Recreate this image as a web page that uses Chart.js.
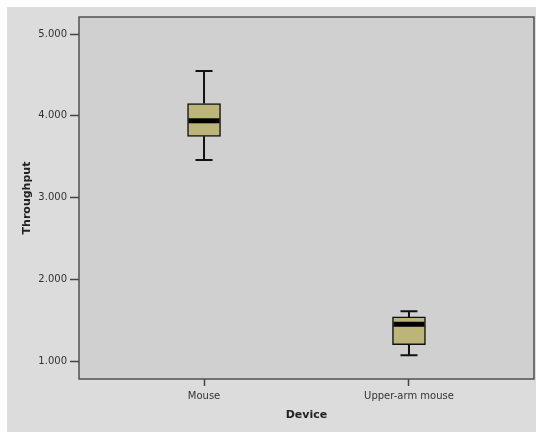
<!DOCTYPE html>
<html>
<head>
<meta charset="utf-8">
<script src="https://cdn.jsdelivr.net/npm/chart.js@4/dist/chart.umd.min.js"></script>
<style>
  html, body { margin: 0; padding: 0; background: #ffffff; }
  canvas { display: block; }
</style>
</head>
<body>
<canvas id="c" width="536" height="432"></canvas>
<script>
// ---- Data ----
const categories = ["Mouse", "Upper-arm mouse"];
const categoryPositions = [1, 2];
const whiskerMin = [3.46, 1.07];
const q1 = [3.75, 1.20];
const median = [3.94, 1.45];
const q3 = [4.15, 1.54];
const whiskerMax = [4.55, 1.61];
const yTicks = [1, 2, 3, 4, 5];
const yTickLabels = ["1.000", "2.000", "3.000", "4.000", "5.000"];

const boxData = categoryPositions.map((x, i) => ({ x: x, y: [q1[i], q3[i]] }));

const BOX_WIDTH = 33;
const CAP_WIDTH = 17;

const boxPlotPlugin = {
  id: 'boxplotDecor',
  beforeDraw(chart) {
    const ctx = chart.ctx;
    const ca = chart.chartArea;
    ctx.save();
    ctx.fillStyle = '#ffffff';
    ctx.fillRect(0, 0, chart.width, chart.height);
    ctx.fillStyle = '#dcdcdc';
    ctx.fillRect(7, 7, chart.width - 7, chart.height - 7);
    ctx.fillStyle = '#d0d0d0';
    ctx.fillRect(ca.left, ca.top, ca.right - ca.left, ca.bottom - ca.top);
    ctx.restore();
  },
  beforeDatasetsDraw(chart) {
    const ctx = chart.ctx;
    const xs = chart.scales.x, ys = chart.scales.y;
    ctx.save();
    ctx.strokeStyle = '#111111';
    ctx.lineWidth = 2;
    categoryPositions.forEach((pos, i) => {
      const px = xs.getPixelForValue(pos);
      const yMax = ys.getPixelForValue(whiskerMax[i]);
      const yQ3 = ys.getPixelForValue(q3[i]);
      const yQ1 = ys.getPixelForValue(q1[i]);
      const yMin = ys.getPixelForValue(whiskerMin[i]);
      ctx.beginPath();
      ctx.moveTo(px, yMax); ctx.lineTo(px, yQ3);
      ctx.moveTo(px, yQ1); ctx.lineTo(px, yMin);
      ctx.moveTo(px - CAP_WIDTH / 2, yMax); ctx.lineTo(px + CAP_WIDTH / 2, yMax);
      ctx.moveTo(px - CAP_WIDTH / 2, yMin); ctx.lineTo(px + CAP_WIDTH / 2, yMin);
      ctx.stroke();
    });
    ctx.restore();
  },
  afterDatasetsDraw(chart) {
    const ctx = chart.ctx;
    const xs = chart.scales.x, ys = chart.scales.y;
    const ca = chart.chartArea;
    ctx.save();
    ctx.strokeStyle = '#000000';
    ctx.lineWidth = 5;
    categoryPositions.forEach((pos, i) => {
      const px = xs.getPixelForValue(pos);
      const yMed = ys.getPixelForValue(median[i]);
      ctx.beginPath();
      ctx.moveTo(px - BOX_WIDTH / 2 + 1, yMed);
      ctx.lineTo(px + BOX_WIDTH / 2 - 1, yMed);
      ctx.stroke();
    });
    ctx.strokeStyle = '#505050';
    ctx.lineWidth = 1.5;
    ctx.strokeRect(ca.left, ca.top, ca.right - ca.left, ca.bottom - ca.top);
    ctx.restore();
  }
};

new Chart(document.getElementById('c'), {
  type: 'bar',
  data: {
    datasets: [{
      data: boxData,
      backgroundColor: '#bcb57a',
      borderColor: '#111111',
      borderWidth: 1.5,
      borderSkipped: false,
      barThickness: BOX_WIDTH
    }]
  },
  options: {
    responsive: false,
    animation: false,
    devicePixelRatio: 1,
    layout: { padding: { top: 17, right: 2, left: 0, bottom: 0 } },
    plugins: { legend: { display: false }, tooltip: { enabled: false }, title: { display: false } },
    scales: {
      x: {
        type: 'linear',
        min: 0.39,
        max: 2.61,
        offset: false,
        afterFit(scale) { scale.height = 53; },
        afterBuildTicks(scale) { scale.ticks = categoryPositions.map(v => ({ value: v })); },
        grid: { display: true, drawOnChartArea: false, offset: false, tickLength: 7, tickColor: '#444444', tickWidth: 1.5 },
        border: { display: false },
        ticks: {
          autoSkip: false,
          maxRotation: 0,
          padding: 4,
          color: '#333333',
          font: { family: 'DejaVu Sans', size: 10 },
          callback: (v) => categories[categoryPositions.indexOf(v)]
        },
        title: {
          display: true,
          text: 'Device',
          color: '#222222',
          font: { family: 'DejaVu Sans', size: 11, weight: 'bold' },
          padding: { top: 0, bottom: 10 }
        }
      },
      y: {
        type: 'linear',
        min: 0.78,
        max: 5.21,
        afterFit(scale) { scale.width = 79; },
        afterBuildTicks(scale) { scale.ticks = yTicks.map(v => ({ value: v })); },
        grid: { display: true, drawOnChartArea: false, tickLength: 9, tickColor: '#444444', tickWidth: 1.5 },
        border: { display: false },
        ticks: {
          autoSkip: false,
          padding: 3,
          color: '#333333',
          font: { family: 'DejaVu Sans', size: 10 },
          callback: (v) => yTickLabels[yTicks.indexOf(v)]
        },
        title: {
          display: true,
          text: 'Throughput',
          color: '#222222',
          font: { family: 'DejaVu Sans', size: 11, weight: 'bold' },
          padding: { top: 21, bottom: 0 }
        }
      }
    }
  },
  plugins: [boxPlotPlugin]
});
</script>
</body>
</html>
